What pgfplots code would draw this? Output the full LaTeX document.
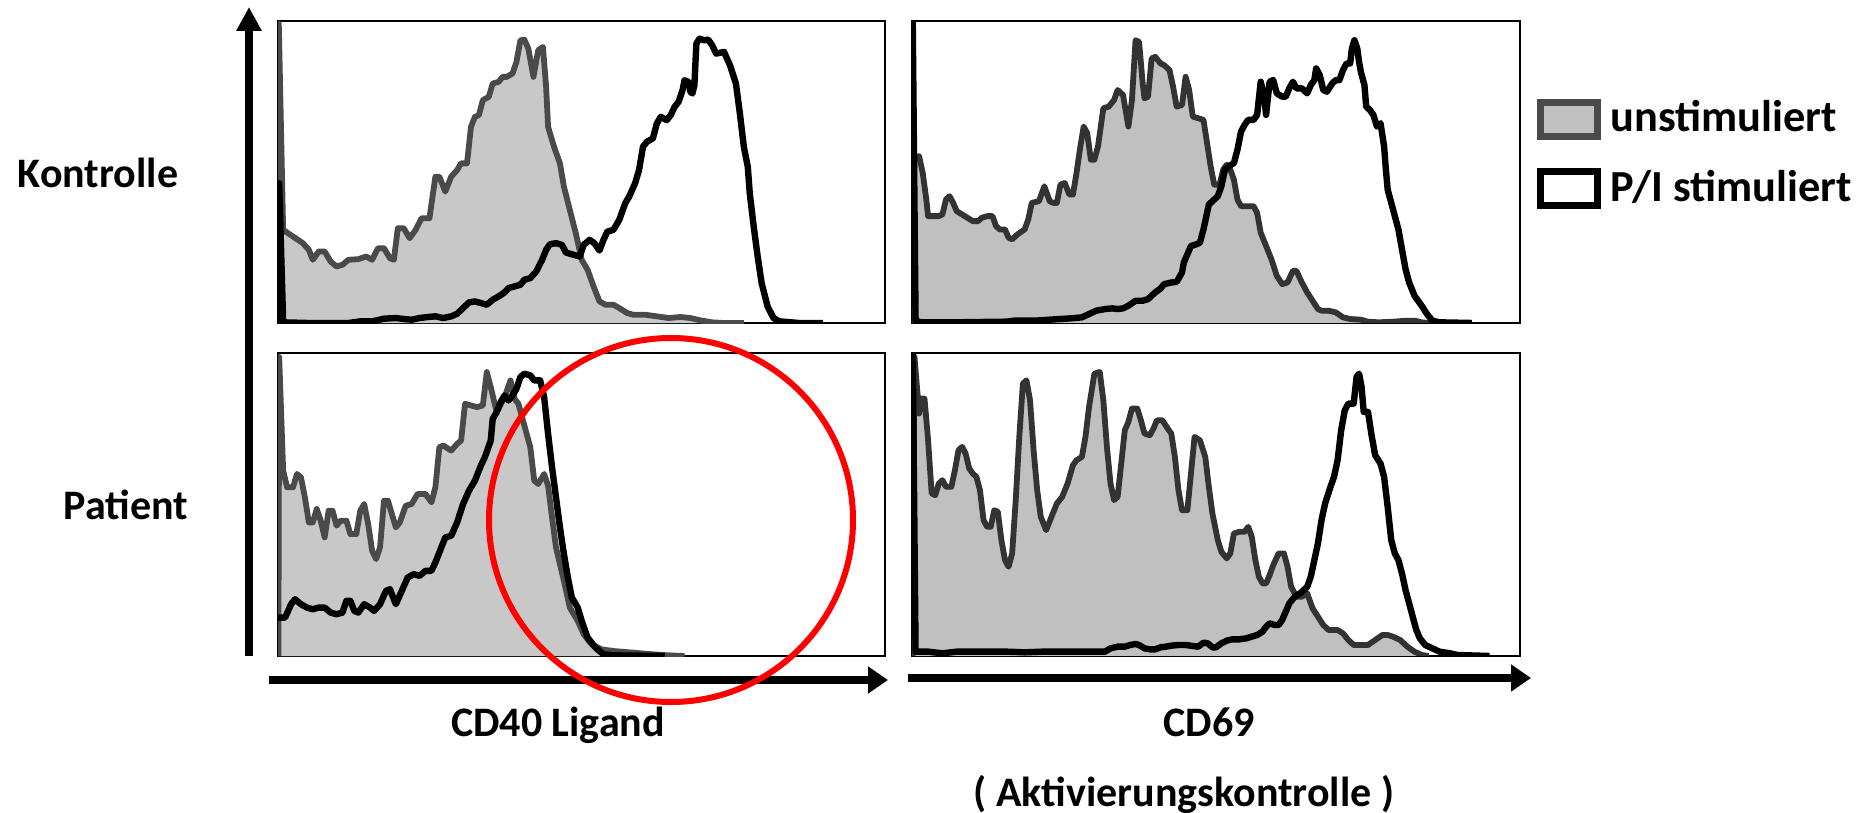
\documentclass[border=0pt]{standalone}
\usepackage{pgfplots}
\pgfplotsset{compat=1.18}
\usepackage{pgfplotstable}
\usepackage{fontspec}
\setmainfont{Carlito}
\usetikzlibrary{arrows.meta}

\definecolor{gfillL}{HTML}{C8C8C8}
\definecolor{gfillR}{HTML}{C0C0C0}
\definecolor{glineL}{HTML}{4A4A4A}
\definecolor{glineR}{HTML}{333333}

% Top-left: CD40 Ligand, Kontrolle
\pgfplotstableread{
x y
23 970
24 70
35 690
60 710
85 730
100 750
110 780
125 755
140 755
155 785
170 800
185 795
200 780
225 778
245 770
260 780
275 745
290 745
305 775
315 780
325 685
340 685
355 715
370 690
385 655
405 655
420 530
430 530
445 575
460 530
475 510
485 490
500 490
510 380
520 350
530 345
540 300
555 290
565 250
580 245
590 230
600 230
615 220
625 185
635 120
645 118
655 145
668 230
680 150
692 140
700 260
705 380
720 440
735 490
745 560
760 630
775 700
790 780
805 810
820 860
835 905
850 915
870 915
885 925
905 940
920 945
950 945
980 950
1010 955
1040 952
1065 955
1090 962
1120 968
1150 970
1200 970
}\tlgray
\pgfplotstableread{
x y
23 970
25 550
35 968
100 970
200 970
230 965
260 965
290 957
320 955
340 958
360 960
380 955
400 952
420 950
440 955
460 950
475 942
490 925
505 908
520 905
535 910
550 915
565 900
580 890
595 878
605 865
620 860
635 855
645 840
660 835
675 815
690 780
700 750
710 733
725 730
740 735
750 758
770 765
785 770
795 735
810 720
822 730
835 752
845 720
855 695
870 690
885 660
900 610
910 590
925 550
935 510
945 440
955 425
970 415
980 370
990 350
1005 360
1015 345
1025 320
1035 305
1045 270
1050 240
1060 245
1065 275
1070 280
1075 255
1080 130
1088 115
1100 120
1110 118
1120 135
1130 160
1150 155
1165 195
1180 250
1190 340
1200 440
1210 500
1215 580
1225 680
1235 770
1245 850
1260 920
1275 955
1290 965
1320 968
1340 970
1400 970
}\tlblack

% Top-right: CD69, Kontrolle
\pgfplotstableread{
x y
36 972
40 470
55 470
65 520
75 600
80 650
95 650
110 650
120 645
130 600
140 590
150 610
160 635
175 645
190 655
205 665
220 665
230 655
245 650
260 650
270 680
280 690
295 690
305 715
315 720
330 705
350 690
360 660
370 610
390 605
405 560
420 605
430 610
440 610
450 555
462 550
475 585
485 585
495 520
505 445
515 380
525 400
535 480
545 480
555 440
570 325
585 320
600 300
610 270
625 285
640 380
650 300
660 120
670 125
680 250
685 295
695 290
705 175
715 170
730 190
740 195
755 210
765 260
775 320
790 315
800 230
810 270
820 350
835 355
850 360
860 430
870 500
880 555
895 555
905 510
915 495
925 510
935 540
945 600
955 620
975 620
990 620
1000 640
1010 700
1025 740
1040 780
1055 830
1070 855
1085 850
1100 815
1110 815
1125 850
1140 880
1155 905
1170 930
1180 935
1200 935
1220 940
1240 955
1260 960
1290 962
1310 968
1340 970
1380 968
1420 965
1440 965
1460 970
1480 972
}\trgray
\pgfplotstableread{
x y
37 62
45 965
60 970
150 970
300 968
320 965
350 965
380 965
420 962
450 960
480 958
510 955
530 945
550 935
575 930
595 928
610 930
625 928
640 920
660 905
680 905
695 900
705 890
715 880
730 868
740 855
760 850
775 848
790 820
795 790
805 765
815 740
830 735
840 730
850 690
865 615
880 600
890 590
900 560
910 510
920 500
935 490
945 450
955 395
965 375
975 360
990 360
1000 345
1005 295
1010 245
1020 290
1025 345
1035 245
1045 240
1055 280
1070 290
1080 290
1090 265
1100 245
1110 265
1125 265
1140 280
1150 255
1160 240
1165 205
1175 225
1185 270
1195 275
1210 250
1220 240
1230 240
1240 210
1250 190
1260 190
1265 145
1272 120
1280 145
1285 185
1290 215
1300 255
1305 320
1315 330
1325 345
1335 380
1345 370
1355 440
1360 510
1365 570
1375 610
1385 650
1395 690
1405 750
1415 810
1425 850
1440 890
1460 920
1475 945
1490 965
1510 970
1600 972
}\trblack

% Bottom-left: CD40 Ligand, Patient
\pgfplotstableread{
x y
23 945
25 50
35 390
45 440
60 440
70 400
80 410
90 470
100 545
110 545
120 505
130 540
140 590
150 510
160 510
170 555
180 540
195 540
205 580
220 580
230 510
240 490
250 550
260 630
270 655
280 620
290 480
300 480
310 520
320 560
330 545
345 495
360 490
375 460
395 460
410 485
420 440
430 320
440 315
460 330
475 310
485 300
495 190
510 195
525 200
540 195
550 95
560 140
575 215
595 170
610 120
620 175
630 190
645 255
660 320
670 420
680 430
695 400
705 435
715 530
725 620
745 720
760 800
780 840
795 880
815 910
840 925
870 930
920 935
970 940
1010 943
1050 945
}\blgray
\pgfplotstableread{
x y
22 830
40 830
55 790
65 775
80 790
95 800
110 805
125 800
140 800
155 815
170 820
185 815
195 780
205 780
215 810
225 815
240 790
255 800
265 810
280 790
295 750
305 745
320 790
335 750
350 710
365 700
380 705
395 690
410 690
420 665
435 620
445 590
460 585
475 545
490 490
505 450
520 420
535 375
545 350
560 300
565 235
575 215
585 185
595 165
605 180
615 165
625 145
635 110
645 100
660 105
670 120
685 120
695 170
705 280
715 380
725 470
735 560
745 640
755 710
765 770
780 800
790 840
805 890
825 920
845 940
870 943
1000 945
}\blblack

% Bottom-right: CD69, Patient
\pgfplotstableread{
x y
36 948
42 50
55 220
60 175
70 175
80 300
90 460
100 465
110 430
120 420
130 440
145 440
155 390
165 330
175 320
185 340
195 385
205 400
215 410
225 450
235 540
245 560
255 560
265 510
275 515
285 600
295 660
305 680
315 640
325 480
335 290
345 130
355 120
365 180
375 330
385 450
395 530
410 570
425 530
440 490
455 470
470 430
485 375
495 360
510 350
520 290
530 200
545 100
560 95
570 180
580 320
590 430
600 480
610 470
620 370
630 270
640 245
650 205
665 205
675 240
685 280
700 285
710 265
720 240
735 240
750 265
760 280
770 350
780 450
790 510
805 510
815 400
825 290
840 300
855 350
865 440
875 520
890 600
900 635
915 655
925 640
935 580
950 575
965 575
975 560
985 590
995 660
1005 710
1015 730
1025 730
1035 705
1045 675
1060 640
1075 640
1085 680
1095 740
1110 770
1125 770
1140 760
1155 805
1170 830
1185 855
1200 870
1225 870
1240 880
1255 900
1270 915
1290 915
1310 915
1330 900
1350 885
1365 885
1380 890
1400 900
1420 920
1440 935
1460 945
1480 948
}\brgray
\pgfplotstableread{
x y
37 40
45 935
80 935
120 940
160 935
250 935
300 935
350 937
400 935
450 935
500 935
550 935
575 935
590 925
610 920
630 920
645 915
660 912
670 915
685 925
700 928
715 928
730 922
745 920
760 917
780 915
800 915
820 918
835 920
850 908
862 910
875 922
885 922
900 910
915 902
930 898
950 898
970 895
985 890
1000 885
1015 875
1025 860
1035 850
1050 855
1060 855
1070 840
1080 815
1090 790
1105 770
1120 760
1130 750
1140 740
1150 710
1160 660
1170 610
1180 540
1190 490
1205 440
1215 410
1225 360
1235 270
1245 210
1255 190
1270 190
1278 110
1285 100
1292 140
1298 215
1310 215
1320 285
1330 345
1345 370
1355 410
1365 500
1375 600
1385 640
1395 660
1405 700
1415 750
1425 790
1435 830
1445 870
1455 895
1470 915
1490 925
1510 935
1540 940
1560 945
1650 948
}\brblack

\pgfplotsset{
  panel/.style={
    scale only axis, anchor=north west,
    xtick=\empty, ytick=\empty, y dir=reverse,
    axis line style={line width=1.2pt},
    clip=true,
  },
  grayL/.style={fill=gfillL, draw=glineL, line width=2.9pt, line join=round, mark=none},
  grayR/.style={fill=gfillR, draw=glineR, line width=2.9pt, line join=round, mark=none},
  blk/.style={draw=black, line width=3.2pt, line join=round, mark=none},
}

\begin{document}
\begin{tikzpicture}[x=0.5pt,y=-0.5pt]
\path[use as bounding box] (0,0) rectangle (1876,813);

% top-left
\begin{axis}[panel, at={(139pt,-10.5pt)}, width=303.5pt, height=151pt,
  xmin=22, xmax=1557, ymin=62, ymax=970]
  \addplot[grayL] table[x=x,y=y] {\tlgray};
  \addplot[blk] table[x=x,y=y] {\tlblack};
\end{axis}
% top-right
\begin{axis}[panel, at={(456pt,-10.5pt)}, width=304pt, height=151pt,
  xmin=35, xmax=1735, ymin=62, ymax=972]
  \addplot[grayR] table[x=x,y=y] {\trgray};
  \addplot[blk] table[x=x,y=y] {\trblack};
\end{axis}
% bottom-left
\begin{axis}[panel, at={(139pt,-176.5pt)}, width=303.5pt, height=151.5pt,
  xmin=22, xmax=1557, ymin=38, ymax=945]
  \addplot[grayL] table[x=x,y=y] {\blgray};
  \addplot[blk] table[x=x,y=y] {\blblack};
\end{axis}
% bottom-right
\begin{axis}[panel, at={(456pt,-176.5pt)}, width=304pt, height=151.5pt,
  xmin=35, xmax=1735, ymin=38, ymax=948]
  \addplot[grayR] table[x=x,y=y] {\brgray};
  \addplot[blk] table[x=x,y=y] {\brblack};
\end{axis}

% axis arrows
\draw[line width=3.6pt, -{Triangle[length=12pt,width=12pt]}] (249,656) -- (249,7);
\draw[line width=4.2pt, -{Triangle[length=10pt,width=13pt]}] (269,680) -- (888,680);
\draw[line width=4.2pt, -{Triangle[length=10pt,width=13pt]}] (908,678) -- (1531,678);

% labels
\tikzset{lab/.style={font=\fontsize{21}{25}\selectfont\bfseries, inner sep=0pt},
         leg/.style={font=\fontsize{22.2}{26}\selectfont\bfseries, inner sep=0pt}}
\node[lab, anchor=base] at (98,188) {Kontrolle};
\node[lab, anchor=base] at (126,519) {Patient};
\node[lab, anchor=base] at (558,736) {CD40 Ligand};
\node[lab, anchor=base] at (1209,736) {CD69};
\node[lab, anchor=base] at (1184,806) {( Aktivierungskontrolle )};

% legend
\draw[draw=glineL, fill=gfillR, line width=3.5pt] (1540.5,102.5) rectangle (1597.5,136.5);
\draw[draw=black, fill=white, line width=3.5pt] (1540.5,171.5) rectangle (1597.5,205.5);
\node[leg, anchor=base west] at (1610,132) {unstimuliert};
\node[leg, anchor=base west] at (1610,201) {P/I stimuliert};

% red highlight circle
\draw[red, line width=3pt] (671,520) circle[radius=91pt];
\end{tikzpicture}
\end{document}
